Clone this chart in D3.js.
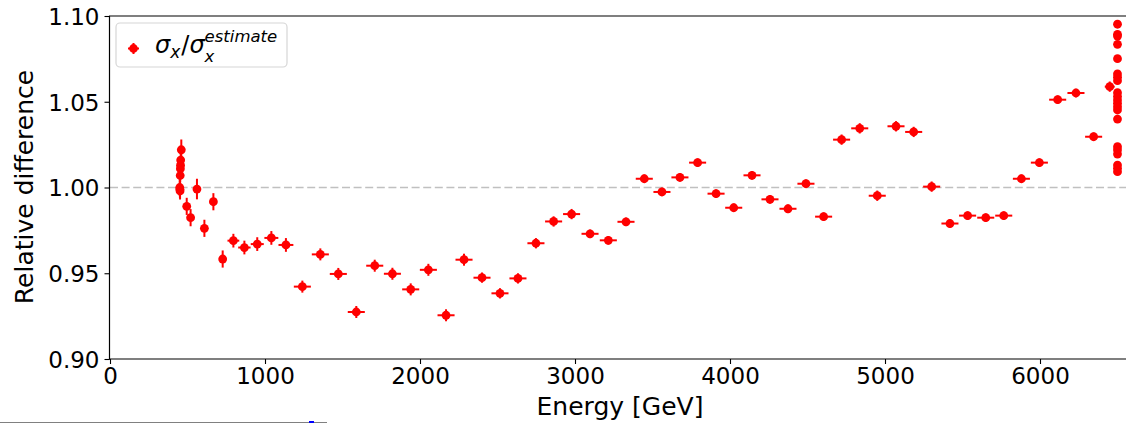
<!DOCTYPE html>
<html lang="en">
<head>
<meta charset="UTF-8">
<title>Relative difference vs energy</title>
<script src="https://cdnjs.cloudflare.com/ajax/libs/d3/7.8.5/d3.min.js"></script>
<style>
  body { margin: 0; background: #fff; }
  svg { display: block; font-family: "DejaVu Sans", sans-serif; }
  .tick text { font-size: 23px; fill: #000; }
  .tick line { stroke: #000; stroke-width: 1.1; }
</style>
</head>
<body>
<script>
// low-energy points, no horizontal error bar
const lowEnergy = [450, 451, 452, 453, 454, 455, 456, 460, 495, 520, 561, 609, 667, 727];
const lowRatio  = [1.000, 0.999, 0.998, 1.007, 1.011, 1.013, 1.016, 1.022, 0.989, 0.9824, 0.9991, 0.9762, 0.9917, 0.9583];
const lowYErr   = [0.005, 0.005, 0.005, 0.004, 0.004, 0.004, 0.005, 0.006, 0.005, 0.005, 0.006, 0.005, 0.005, 0.005];

// binned points
const binEnergy = [796, 867, 950, 1041, 1135, 1241, 1357, 1473, 1589, 1708, 1822, 1940, 2054, 2168,
  2284, 2400, 2516, 2632, 2748, 2862, 2978, 3097, 3215, 3329, 3447, 3561, 3677, 3791, 3910, 4024,
  4142, 4258, 4374, 4490, 4604, 4720, 4837, 4950, 5071, 5185, 5301, 5419, 5533, 5650, 5766, 5880,
  5996, 6114, 6232, 6346, 6450];
const binRatio = [0.969, 0.965, 0.967, 0.9706, 0.9665, 0.9422, 0.961, 0.9496, 0.9274, 0.9544, 0.9497,
  0.9406, 0.952, 0.9255, 0.9579, 0.9474, 0.9383, 0.947, 0.9675, 0.9802, 0.9845, 0.973, 0.9692, 0.980,
  1.0051, 0.9974, 1.0059, 1.0145, 0.9964, 0.9882, 1.0071, 0.9931, 0.9876, 1.0022, 0.983, 1.0279,
  1.0345, 0.9952, 1.0357, 1.0324, 1.0005, 0.979, 0.9836, 0.9824, 0.9836, 1.0051, 1.0145, 1.0512,
  1.0551, 1.0296, 1.0588];
const binXErr = [38, 40, 42, 45, 48, 55, 55, 55, 55, 55, 55, 55, 55, 55, 55, 55, 55, 55, 55, 55, 55,
  55, 55, 55, 55, 55, 55, 55, 55, 55, 55, 55, 55, 55, 55, 55, 55, 55, 55, 55, 55, 55, 55, 55, 55, 55,
  55, 55, 55, 55, 32];
const binYErr = [0.004, 0.004, 0.004, 0.004, 0.004, 0.0035, 0.0035, 0.0035, 0.0035, 0.0035, 0.0035,
  0.0035, 0.0035, 0.0035, 0.0035, 0.003, 0.003, 0.003, 0.003, 0.003, 0.003, 0.0025, 0.0025, 0.0025,
  0.0025, 0.0025, 0.0025, 0.0025, 0.0025, 0.0025, 0.0025, 0.0025, 0.0025, 0.0025, 0.0025, 0.003,
  0.003, 0.003, 0.003, 0.003, 0.003, 0.0025, 0.0025, 0.0025, 0.0025, 0.0025, 0.0025, 0.0025, 0.0025,
  0.0025, 0.003];

// points at the top energy
const endEnergy = 6500;
const endRatio = [1.0952, 1.0893, 1.0883, 1.0835, 1.0751, 1.0662, 1.0643, 1.0623, 1.0553, 1.0530,
  1.0510, 1.0491, 1.0471, 1.0452, 1.0399, 1.0238, 1.0219, 1.0195, 1.0131, 1.0112, 1.0092];

const xTicks = [0, 1000, 2000, 3000, 4000, 5000, 6000];
const yTicks = [0.90, 0.95, 1.00, 1.05, 1.10];

const W = 1126, H = 423;
const red = "#ff0000";

const points = [];
lowEnergy.forEach((e, i) => points.push({ e, r: lowRatio[i], xe: 0, ye: lowYErr[i] }));
binEnergy.forEach((e, i) => points.push({ e, r: binRatio[i], xe: binXErr[i], ye: binYErr[i] }));
endRatio.forEach(r => points.push({ e: endEnergy, r, xe: 0, ye: 0.002 }));

const svg = d3.select("body").append("svg").attr("width", W).attr("height", H);

const x = d3.scaleLinear().domain([0, 6000]).range([110, 1040]);
const y = d3.scaleLinear().domain([0.9, 1.1]).range([359, 16]);

// reference line
svg.append("line")
  .attr("x1", 110).attr("x2", W)
  .attr("y1", y(1.0)).attr("y2", y(1.0))
  .attr("stroke", "#c0c0c0").attr("stroke-width", 1.6)
  .attr("stroke-dasharray", "8,3.6");

// axes
const gx = svg.append("g").attr("transform", "translate(0,359)")
  .call(d3.axisBottom(x).tickValues(xTicks).tickFormat(d3.format("d")).tickSize(5).tickPadding(4));
gx.select(".domain").remove();
gx.selectAll(".tick text").attr("font-family", "DejaVu Sans");

const gy = svg.append("g").attr("transform", "translate(109.5,0)")
  .call(d3.axisLeft(y).tickValues(yTicks).tickFormat(d3.format(".2f")).tickSize(5).tickPadding(5));
gy.select(".domain").remove();
gy.selectAll(".tick text").attr("font-family", "DejaVu Sans").attr("dy", "0.36em");

// spines
svg.append("line").attr("x1", 109.5).attr("x2", 109.5).attr("y1", 16).attr("y2", 359.5)
  .attr("stroke", "#000").attr("stroke-width", 1.2);
svg.append("line").attr("x1", 109).attr("x2", W).attr("y1", 359).attr("y2", 359)
  .attr("stroke", "#000").attr("stroke-width", 1.2);
svg.append("line").attr("x1", 109).attr("x2", W).attr("y1", 16).attr("y2", 16)
  .attr("stroke", "#000").attr("stroke-width", 1.2);

// error bars and markers
const marks = svg.append("g");
const pt = marks.selectAll("g").data(points).join("g");
pt.append("line")
  .attr("x1", d => x(d.e)).attr("x2", d => x(d.e))
  .attr("y1", d => y(d.r - d.ye)).attr("y2", d => y(d.r + d.ye))
  .attr("stroke", red).attr("stroke-width", 2);
pt.filter(d => d.xe > 0).append("line")
  .attr("x1", d => x(d.e - d.xe)).attr("x2", d => x(d.e + d.xe))
  .attr("y1", d => y(d.r)).attr("y2", d => y(d.r))
  .attr("stroke", red).attr("stroke-width", 2);
pt.append("circle")
  .attr("cx", d => x(d.e)).attr("cy", d => y(d.r)).attr("r", 4.4)
  .attr("fill", red);

// axis labels
svg.append("text").attr("x", 620).attr("y", 415).attr("text-anchor", "middle")
  .attr("font-size", 25).text("Energy [GeV]");
svg.append("text").attr("transform", "translate(33,187) rotate(-90)").attr("text-anchor", "middle")
  .attr("font-size", 25).text("Relative difference");

// legend
const lg = svg.append("g");
lg.append("rect").attr("x", 116).attr("y", 23).attr("width", 171).attr("height", 44).attr("rx", 4)
  .attr("fill", "#fff").attr("stroke", "#d6d6d6").attr("stroke-width", 1.2);
lg.append("line").attr("x1", 128).attr("x2", 139).attr("y1", 48.5).attr("y2", 48.5)
  .attr("stroke", red).attr("stroke-width", 2);
lg.append("line").attr("x1", 133.5).attr("x2", 133.5).attr("y1", 43).attr("y2", 54)
  .attr("stroke", red).attr("stroke-width", 2);
lg.append("circle").attr("cx", 133.5).attr("cy", 48.5).attr("r", 4.4).attr("fill", red);

// label as one text with tspans; sub/superscript stacked like mathtext
function width(txt, size, italic) {
  const t = svg.append("text").attr("font-size", size)
    .attr("font-style", italic ? "italic" : "normal").text(txt);
  const w = t.node().getComputedTextLength();
  t.remove();
  return w;
}
const parts = [
  { s: "σ", size: 24, it: true, y: 53 },
  { s: "x", size: 17, it: true, y: 58 },
  { s: "/", size: 24, it: false, y: 53, gap: 1 },
  { s: "σ", size: 24, it: true, y: 53 },
  { s: "x", size: 16.5, it: true, y: 62, stack: true },
  { s: "estimate", size: 16.5, it: true, y: 41.5 }
];
const label = lg.append("text");
let cx = 155;
parts.forEach(p => {
  cx += p.gap || 0;
  label.append("tspan").attr("x", cx).attr("y", p.y).attr("font-size", p.size)
    .attr("font-style", p.it ? "italic" : "normal").text(p.s);
  if (!p.stack) cx += width(p.s, p.size, p.it);
});

// stray widget border at the bottom edge
svg.append("line").attr("x1", 0).attr("x2", 327).attr("y1", 422.5).attr("y2", 422.5)
  .attr("stroke", "#808080").attr("stroke-width", 1);
svg.append("rect").attr("x", 309).attr("y", 421).attr("width", 5).attr("height", 2).attr("fill", "#0000ff");
</script>
</body>
</html>
